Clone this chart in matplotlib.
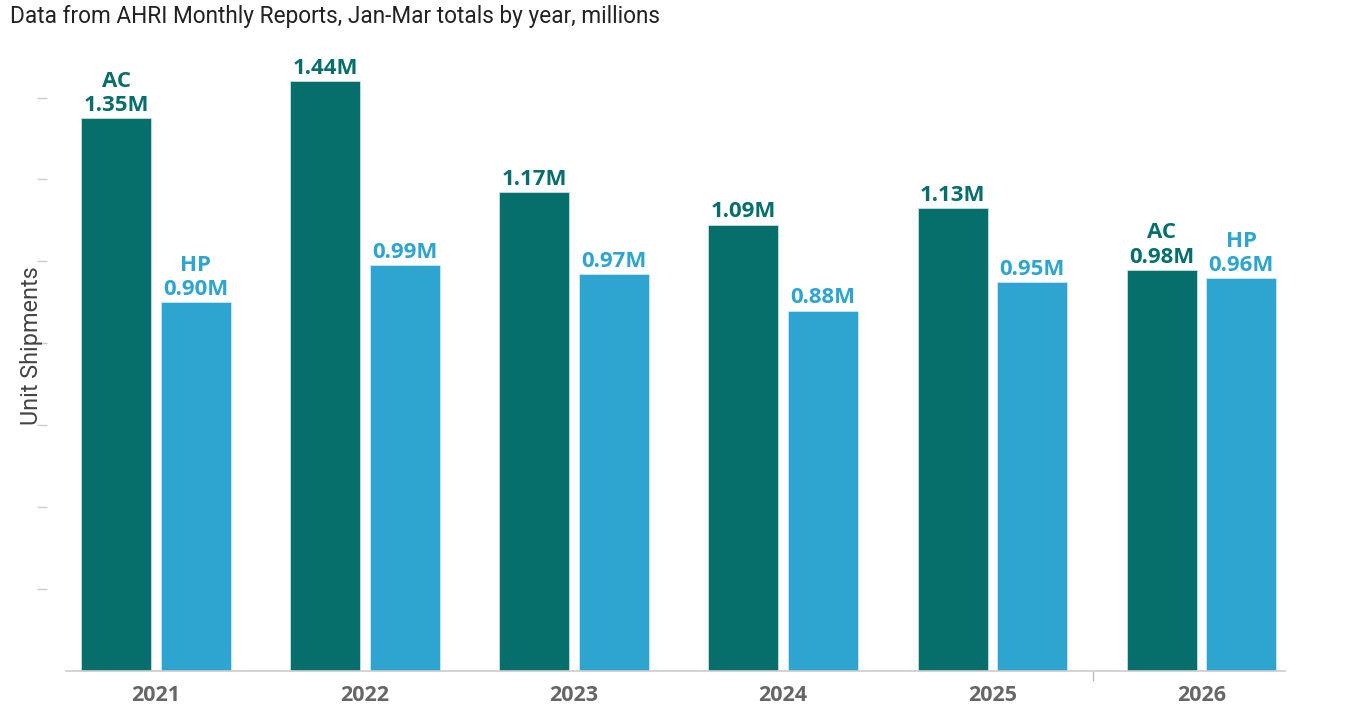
import matplotlib
matplotlib.use("Agg")
import matplotlib.pyplot as plt
import matplotlib.transforms as mtransforms
import numpy as np

years = ["2021", "2022", "2023", "2024", "2025", "2026"]
ac_values = [1.35, 1.44, 1.17, 1.09, 1.13, 0.98]
hp_values = [0.90, 0.99, 0.97, 0.88, 0.95, 0.96]
named_years = ["2021", "2026"]

AC_COLOR = "#066e6b"
HP_COLOR = "#2ea5d1"

plt.rcParams['font.family'] = ['Open Sans', 'DejaVu Sans']

fig = plt.figure(figsize=(13.56, 7.2), dpi=100)
ax = fig.add_axes([66/1356, 1 - 671/720, (1285-66)/1356, (671-40)/720])

x = np.arange(len(years))
w = 0.335
off = 0.19
ax.bar(x - off, ac_values, width=w, color=AC_COLOR, edgecolor="#d8e6e6", linewidth=0.5)
ax.bar(x + off, hp_values, width=w, color=HP_COLOR, edgecolor="#d8ecf4", linewidth=0.5)

for i, yr in enumerate(years):
    for xv, v, name, col in [(x[i] - off, ac_values[i], "AC", AC_COLOR),
                             (x[i] + off, hp_values[i], "HP", HP_COLOR)]:
        txt = f"{v:.2f}M"
        if yr in named_years:
            txt = f"{name}\n{txt}"
        ax.annotate(txt, (xv, v), xytext=(0, 1.5), textcoords="offset points",
                    ha="center", va="bottom", fontsize=16, fontweight="bold",
                    color=col, linespacing=1.2)

ax.set_xlim(-0.43, 5.40)
ax.set_ylim(0, (671-40)/409.6)

ax.set_xticks(x)
ax.set_xticklabels(years, fontsize=15.5, fontweight="bold", color="#666666")
ax.tick_params(axis="x", length=0, pad=10)
ax.set_xticks([4.48], minor=True)
ax.tick_params(axis="x", which="minor", length=7, color="#bbbbbb", width=1)

ax.set_yticks([0.2, 0.4, 0.6, 0.8, 1.0, 1.2, 1.4])
ax.set_yticklabels([])
ax.tick_params(axis="y", length=7, color="#cccccc", width=1)

for s in ["top", "right", "left"]:
    ax.spines[s].set_visible(False)
ax.spines["bottom"].set_color("#cccccc")
ax.spines["bottom"].set_linewidth(1.2)

# shift y ticks to the left of the axes (reference ticks at x~40-47)
for t in ax.yaxis.get_major_ticks():
    t.tick1line.set_transform(t.tick1line.get_transform() + mtransforms.ScaledTranslation(-19/100, 0, fig.dpi_scale_trans))

fig.text(32/1356, 1 - 346/720, "Unit Shipments", rotation=90, ha="center", va="center",
         fontsize=16.8, color="#444444", family=["Roboto", "DejaVu Sans"])
fig.text(10/1356, 1 - 16/720, "Data from AHRI Monthly Reports, Jan-Mar totals by year, millions",
         ha="left", va="center", fontsize=16.3, color="#222222", family=["Roboto", "DejaVu Sans"])

fig.savefig("out.png", dpi=100)
